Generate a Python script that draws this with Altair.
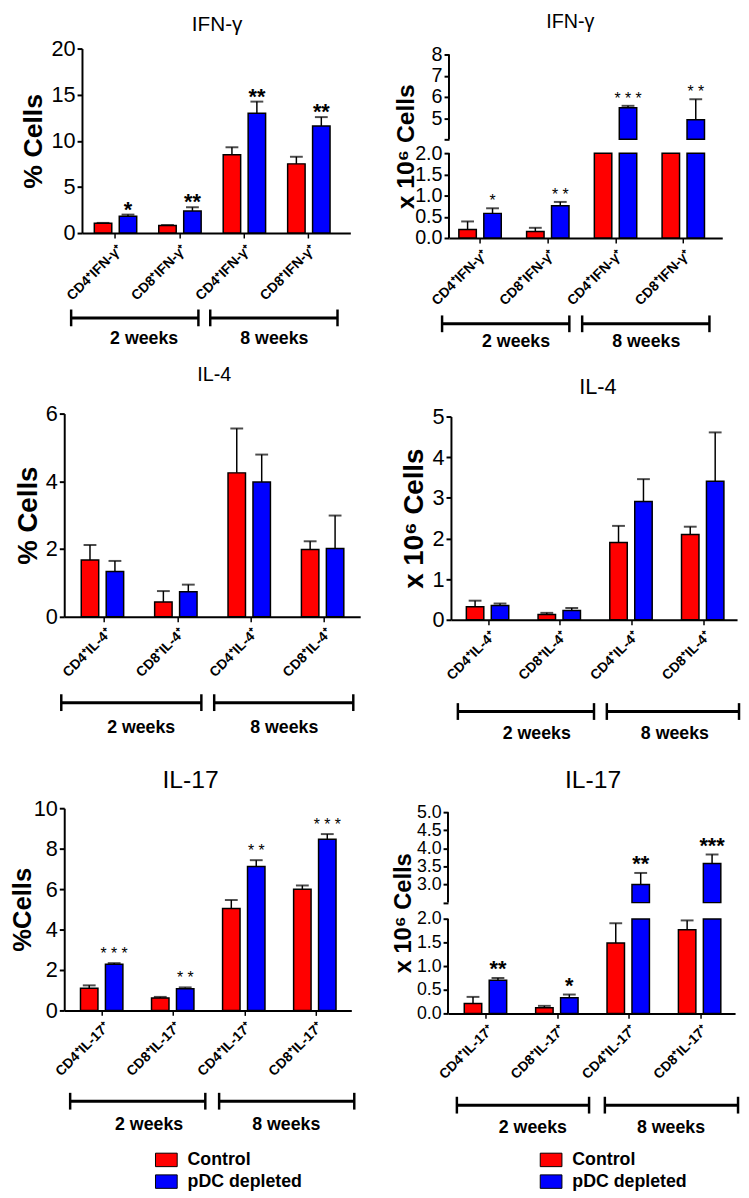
import altair as alt
import pandas as pd

FONT = "Liberation Sans"
RED, BLUE = "#ff0000", "#0000ff"

groups = ["CD4 2wk", "CD8 2wk", "CD4 8wk", "CD8 8wk"]
series = ["Control", "pDC depleted"]
weeks = ["2 weeks", "8 weeks"]

ifng_labels = ["CD4⁺IFN-γ⁺", "CD8⁺IFN-γ⁺", "CD4⁺IFN-γ⁺", "CD8⁺IFN-γ⁺"]
il4_labels = ["CD4⁺IL-4⁺", "CD8⁺IL-4⁺", "CD4⁺IL-4⁺", "CD8⁺IL-4⁺"]
il17_labels = ["CD4⁺IL-17⁺", "CD8⁺IL-17⁺", "CD4⁺IL-17⁺", "CD8⁺IL-17⁺"]

# IFN-gamma, % cells
ifng_pct_ctrl = [1.07, 0.82, 8.5, 7.5]
ifng_pct_ctrl_err = [0.03, 0.05, 0.8, 0.77]
ifng_pct_pdc = [1.82, 2.4, 13.0, 11.6]
ifng_pct_pdc_err = [0.18, 0.4, 1.25, 0.97]
ifng_pct_stars = ["*", "**", "**", "**"]

# IFN-gamma, x10^6 cells
ifng_abs_ctrl = [0.2, 0.155, 2.9, 2.6]
ifng_abs_ctrl_err = [0.19, 0.085, 0.3, 0.3]
ifng_abs_pdc = [0.58, 0.76, 5.49, 4.92]
ifng_abs_pdc_err = [0.12, 0.09, 0.09, 0.97]
ifng_abs_stars = ["*", "**", "***", "**"]

# IL-4, % cells
il4_pct_ctrl = [1.68, 0.44, 4.25, 1.99]
il4_pct_ctrl_err = [0.44, 0.32, 1.31, 0.24]
il4_pct_pdc = [1.34, 0.74, 3.98, 2.02]
il4_pct_pdc_err = [0.31, 0.21, 0.81, 0.97]
il4_pct_stars = ["", "", "", ""]

# IL-4, x10^6 cells
il4_abs_ctrl = [0.32, 0.13, 1.9, 2.10]
il4_abs_ctrl_err = [0.15, 0.04, 0.41, 0.19]
il4_abs_pdc = [0.35, 0.23, 2.91, 3.41]
il4_abs_pdc_err = [0.05, 0.06, 0.55, 1.2]
il4_abs_stars = ["", "", "", ""]

# IL-17, % cells
il17_pct_ctrl = [1.1, 0.62, 5.04, 5.99]
il17_pct_ctrl_err = [0.14, 0.05, 0.42, 0.19]
il17_pct_pdc = [2.28, 1.07, 7.12, 8.47]
il17_pct_pdc_err = [0.06, 0.07, 0.31, 0.25]
il17_pct_stars = ["***", "**", "**", "***"]

# IL-17, x10^6 cells
il17_abs_ctrl = [0.21, 0.12, 1.49, 1.77]
il17_abs_ctrl_err = [0.14, 0.04, 0.42, 0.2]
il17_abs_pdc = [0.70, 0.33, 3.0, 3.58]
il17_abs_pdc_err = [0.05, 0.07, 0.32, 0.25]
il17_abs_stars = ["**", "*", "**", "***"]


def make_df(ctrl, ctrl_err, pdc, pdc_err, stars):
    rows = []
    for i, g in enumerate(groups):
        rows.append({"grp": g, "series": series[0], "value": ctrl[i], "err": ctrl_err[i], "star": ""})
        rows.append({"grp": g, "series": series[1], "value": pdc[i], "err": pdc_err[i], "star": stars[i]})
    return pd.DataFrame(rows)


def label_expr(labels):
    keys = ",".join(f"'{k}'" for k in groups)
    vals = ",".join(f"'{v}'" for v in labels)
    return f"[{vals}][indexof([{keys}], datum.value)]"


def panel(c):
    df = make_df(*c["data"])
    W, H = c["w"], c["h"]
    lp, tp, rp, bp = c["pad"]
    broken = "brk" in c
    if broken:
        ysc = alt.Scale(domain=c["dom"], range=[r + tp for r in c["rng"]], nice=False, zero=False)
    else:
        ysc = alt.Scale(domain=[0, c["ymax"]], range=[tp + H, tp], nice=False)
    pi, po, al = c["band"]
    xenc = alt.X(
        "grp:N", sort=groups,
        scale=alt.Scale(paddingInner=pi, paddingOuter=po, align=al, range=[lp, lp + W]),
        axis=alt.Axis(title=None, labelExpr=label_expr(c["labels"]), labelAngle=-45,
                      labelFontSize=14, labelFontWeight="bold", labelPadding=4,
                      labelOverlap=False, tickSize=5, tickWidth=1.5, domainWidth=2, offset=-bp),
    )
    xoff = alt.XOffset("series:N", sort=series, scale=alt.Scale(paddingInner=0.3, paddingOuter=0))
    if "legend" in c:
        lx, ly = c["legend"]
        leg = alt.Legend(orient="none", legendX=lx, legendY=ly, title=None,
                         symbolType="M-1,-0.62H1V0.62H-1Z", symbolSize=484,
                         symbolStrokeColor="black", symbolStrokeWidth=1, symbolOpacity=1,
                         labelFont=FONT, labelFontSize=18, labelFontWeight="bold",
                         labelColor="black", labelOffset=10, rowPadding=1, padding=0)
    else:
        leg = None
    col = alt.Color("series:N", sort=series, scale=alt.Scale(domain=series, range=[RED, BLUE]), legend=leg)
    yaxis = alt.Axis(title=c["ytitle"], values=c["yvalues"], labelFontSize=c.get("ylab", 22),
                     labelFont=FONT, labelPadding=2, tickSize=5, tickWidth=2, labelOverlap=False,
                     domain=not broken, domainWidth=2, offset=-lp,
                     titleFontSize=c["ytsize"], titleFontWeight="bold", titleX=c["titleX"],
                     titleY=tp + H / 2, titleAngle=-90, titleBaseline="alphabetic", titleAlign="center",
                     **({"labelExpr": c["yexpr"]} if "yexpr" in c else {}))
    base = alt.Chart(df)
    bar_style = dict(stroke="black", strokeWidth=1.5)
    layers = []
    if broken:
        lo, hi = c["brk"]
        layers.append(
            base.transform_calculate(b0="0", b1=f"min(datum.value, {lo})")
            .mark_bar(**bar_style)
            .encode(x=xenc, xOffset=xoff, y=alt.Y("b0:Q", scale=ysc, axis=yaxis), y2="b1:Q", color=col)
        )
        layers.append(
            base.transform_filter(f"datum.value > {hi}")
            .transform_calculate(b0=f"{hi}", b1="datum.value")
            .mark_bar(**bar_style)
            .encode(x=xenc, xOffset=xoff, y=alt.Y("b0:Q", scale=ysc, axis=yaxis), y2="b1:Q", color=col)
        )
        segs = pd.DataFrame({"a": [c["dom"][0], hi], "b": [lo, c["dom"][-1]]})
        layers.append(
            alt.Chart(segs).mark_rule(color="black", strokeWidth=2)
            .encode(x=alt.value(lp), y=alt.Y("a:Q", scale=ysc, axis=yaxis), y2="b:Q")
        )
        efilter = f"datum.err > 0 && (datum.value < {lo} || datum.value > {hi})"
    else:
        layers.append(
            base.mark_bar(**bar_style)
            .encode(x=xenc, xOffset=xoff, y=alt.Y("value:Q", scale=ysc, axis=yaxis, stack=None), color=col)
        )
        efilter = "datum.err > 0"
    errs = base.transform_filter(efilter).transform_calculate(top="datum.value + datum.err")
    layers.append(
        errs.mark_rule(color="black", strokeWidth=1.5)
        .encode(x=xenc, xOffset=xoff, y=alt.Y("value:Q", scale=ysc, axis=yaxis), y2="top:Q")
    )
    layers.append(
        errs.mark_tick(color="black", thickness=2, size=13)
        .encode(x=xenc, xOffset=xoff, y=alt.Y("top:Q", scale=ysc, axis=yaxis))
    )
    ss, sw, sdy, spaced = c["star"]
    st = base.transform_filter("datum.star != ''").transform_calculate(top="datum.value + datum.err")
    if spaced:
        st = st.transform_calculate(lab="join(split(datum.star, ''), ' ')")
    else:
        st = st.transform_calculate(lab="datum.star")
    layers.append(
        st.mark_text(font=FONT, fontSize=ss, fontWeight=sw, baseline="alphabetic", dy=sdy, color="black")
        .encode(x=xenc, xOffset=xoff, y=alt.Y("top:Q", scale=ysc, axis=yaxis), text="lab:N")
    )
    one = alt.Chart(pd.DataFrame({"k": [0]}))
    # panel title
    tsize, tx0, ty0 = c["title"]
    layers.append(one.mark_text(font=FONT, fontSize=tsize, baseline="top", align="center", color="black")
                  .encode(x=alt.value(lp + tx0), y=alt.value(tp + ty0), text=alt.value(c["tname"])))
    # period brackets
    by = tp + c["by"]
    for (a, b), (tx, ty), wk in zip(c["spans"], c["texts"], weeks):
        layers.append(one.mark_rule(color="black", strokeWidth=3)
                      .encode(x=alt.value(lp + a), x2=alt.value(lp + b), y=alt.value(by)))
        for xx in (a, b):
            layers.append(one.mark_rule(color="black", strokeWidth=2.5)
                          .encode(x=alt.value(lp + xx), y=alt.value(by - 8.5), y2=alt.value(by + 8.5)))
        layers.append(one.mark_text(font=FONT, fontSize=18, fontWeight="bold", baseline="middle", color="black")
                      .encode(x=alt.value(lp + tx), y=alt.value(tp + ty), text=alt.value(wk)))
    return alt.layer(*layers).properties(width=lp + W + rp, height=tp + H + bp)


p1 = panel(dict(
    data=(ifng_pct_ctrl, ifng_pct_ctrl_err, ifng_pct_pdc, ifng_pct_pdc_err, ifng_pct_stars),
    labels=ifng_labels, w=272, h=187, pad=(18, 0, 10, 5), ymax=20, yvalues=[0, 5, 10, 15, 20],
    band=(0.342, 0.253, 0.378), tname="IFN-γ", title=(21, 137, -34.5),
    ytitle="% Cells", ytsize=27, titleX=-41, star=(22, "bold", 2, False),
    by=273, spans=[(-11, 118), (130, 259)], texts=[(63, 294), (195, 294)],
))
p2 = panel(dict(
    data=(ifng_abs_ctrl, ifng_abs_ctrl_err, ifng_abs_pdc, ifng_abs_pdc_err, ifng_abs_stars),
    labels=ifng_labels, w=277, h=186, pad=(1, 6, 15, 0), brk=(2, 4), dom=[0, 2, 4, 8], rng=[186, 100, 86, 0],
    yvalues=[0, 0.5, 1, 1.5, 2, 4, 5, 6, 7, 8], ylab=20,
    yexpr="datum.value > 3 ? (datum.value == 4 ? '' : format(datum.value, 'd')) : format(datum.value, '.1f')",
    band=(0.36, 0.197, 0.37), tname="IFN-γ", title=(20, 123, -42.5),
    ytitle="x 10⁶ Cells", ytsize=25, titleX=-36, star=(16, "normal", -2, True),
    by=273, spans=[(-7, 122), (135, 264)], texts=[(68, 292), (200, 292)],
))
p3 = panel(dict(
    data=(il4_pct_ctrl, il4_pct_ctrl_err, il4_pct_pdc, il4_pct_pdc_err, il4_pct_stars),
    labels=il4_labels, w=300, h=206, pad=(0, 0, 0, 3), ymax=6, yvalues=[0, 2, 4, 6],
    band=(0.367, 0.2, 0.58), tname="IL-4", title=(20, 152, -49.5),
    ytitle="% Cells", ytsize=28, titleX=-28, star=(22, "bold", 2, False),
    by=293, spans=[(-3, 139), (152, 293)], texts=[(78, 319), (223, 319)],
))
p4 = panel(dict(
    data=(il4_abs_ctrl, il4_abs_ctrl_err, il4_abs_pdc, il4_abs_pdc_err, il4_abs_stars),
    labels=il4_labels, w=290, h=206, pad=(3, 3, 0, 0), ymax=5, yvalues=[0, 1, 2, 3, 4, 5],
    band=(0.381, 0.185, 0.58), tname="IL-4", title=(22, 149, -39.5),
    ytitle="x 10⁶ Cells", ytsize=28, titleX=-29, star=(22, "bold", 2, False),
    by=299, spans=[(7, 145), (158, 292)], texts=[(87, 322), (227, 322)],
))
p5 = panel(dict(
    data=(il17_pct_ctrl, il17_pct_ctrl_err, il17_pct_pdc, il17_pct_pdc_err, il17_pct_stars),
    labels=il17_labels, w=291, h=205, pad=(0, 13, 9, 3), ymax=10, yvalues=[0, 2, 4, 6, 8, 10],
    band=(0.375, 0.208, 0.55), tname="IL-17", title=(25, 128, -40.5),
    ytitle="%Cells", ytsize=26, titleX=-34, star=(16, "normal", -4, True),
    by=297, spans=[(6, 143), (157, 294)], texts=[(86, 321), (225, 321)],
    legend=(92, 358),
))
p6 = panel(dict(
    data=(il17_abs_ctrl, il17_abs_ctrl_err, il17_abs_pdc, il17_abs_pdc_err, il17_abs_stars),
    labels=il17_labels, w=291, h=204, pad=(0, 17, 2, 0), brk=(2, 2.5), dom=[0, 2, 2.5, 5],
    rng=[204, 108.3, 91.7, 0],
    yvalues=[0, 0.5, 1, 1.5, 2, 2.5, 3, 3.5, 4, 4.5, 5], ylab=18,
    yexpr="datum.value == 2.5 ? '' : format(datum.value, '.1f')",
    band=(0.378, 0.2, 0.57), tname="IL-17", title=(25, 147, -44.5),
    ytitle="x 10⁶ Cells", ytsize=24, titleX=-38, star=(22, "bold", -2, False),
    by=297, spans=[(9, 143), (159, 294)], texts=[(86, 320), (226, 320)],
    legend=(93, 358),
))

chart = (
    alt.concat(p1, p2, p3, p4, p5, p6, columns=2, spacing={"row": 178, "column": 89},
               bounds="flush", align="each")
    .resolve_scale(color="independent")
    .properties(padding={"top": -4, "left": 2, "right": 0, "bottom": 0})
    .configure_view(stroke=None)
    .configure_axis(grid=False, domainColor="black", tickColor="black", labelColor="black",
                    titleColor="black", labelFont=FONT, titleFont=FONT)
)

chart.save("out.html", embed_options={"renderer": "svg", "actions": False})
